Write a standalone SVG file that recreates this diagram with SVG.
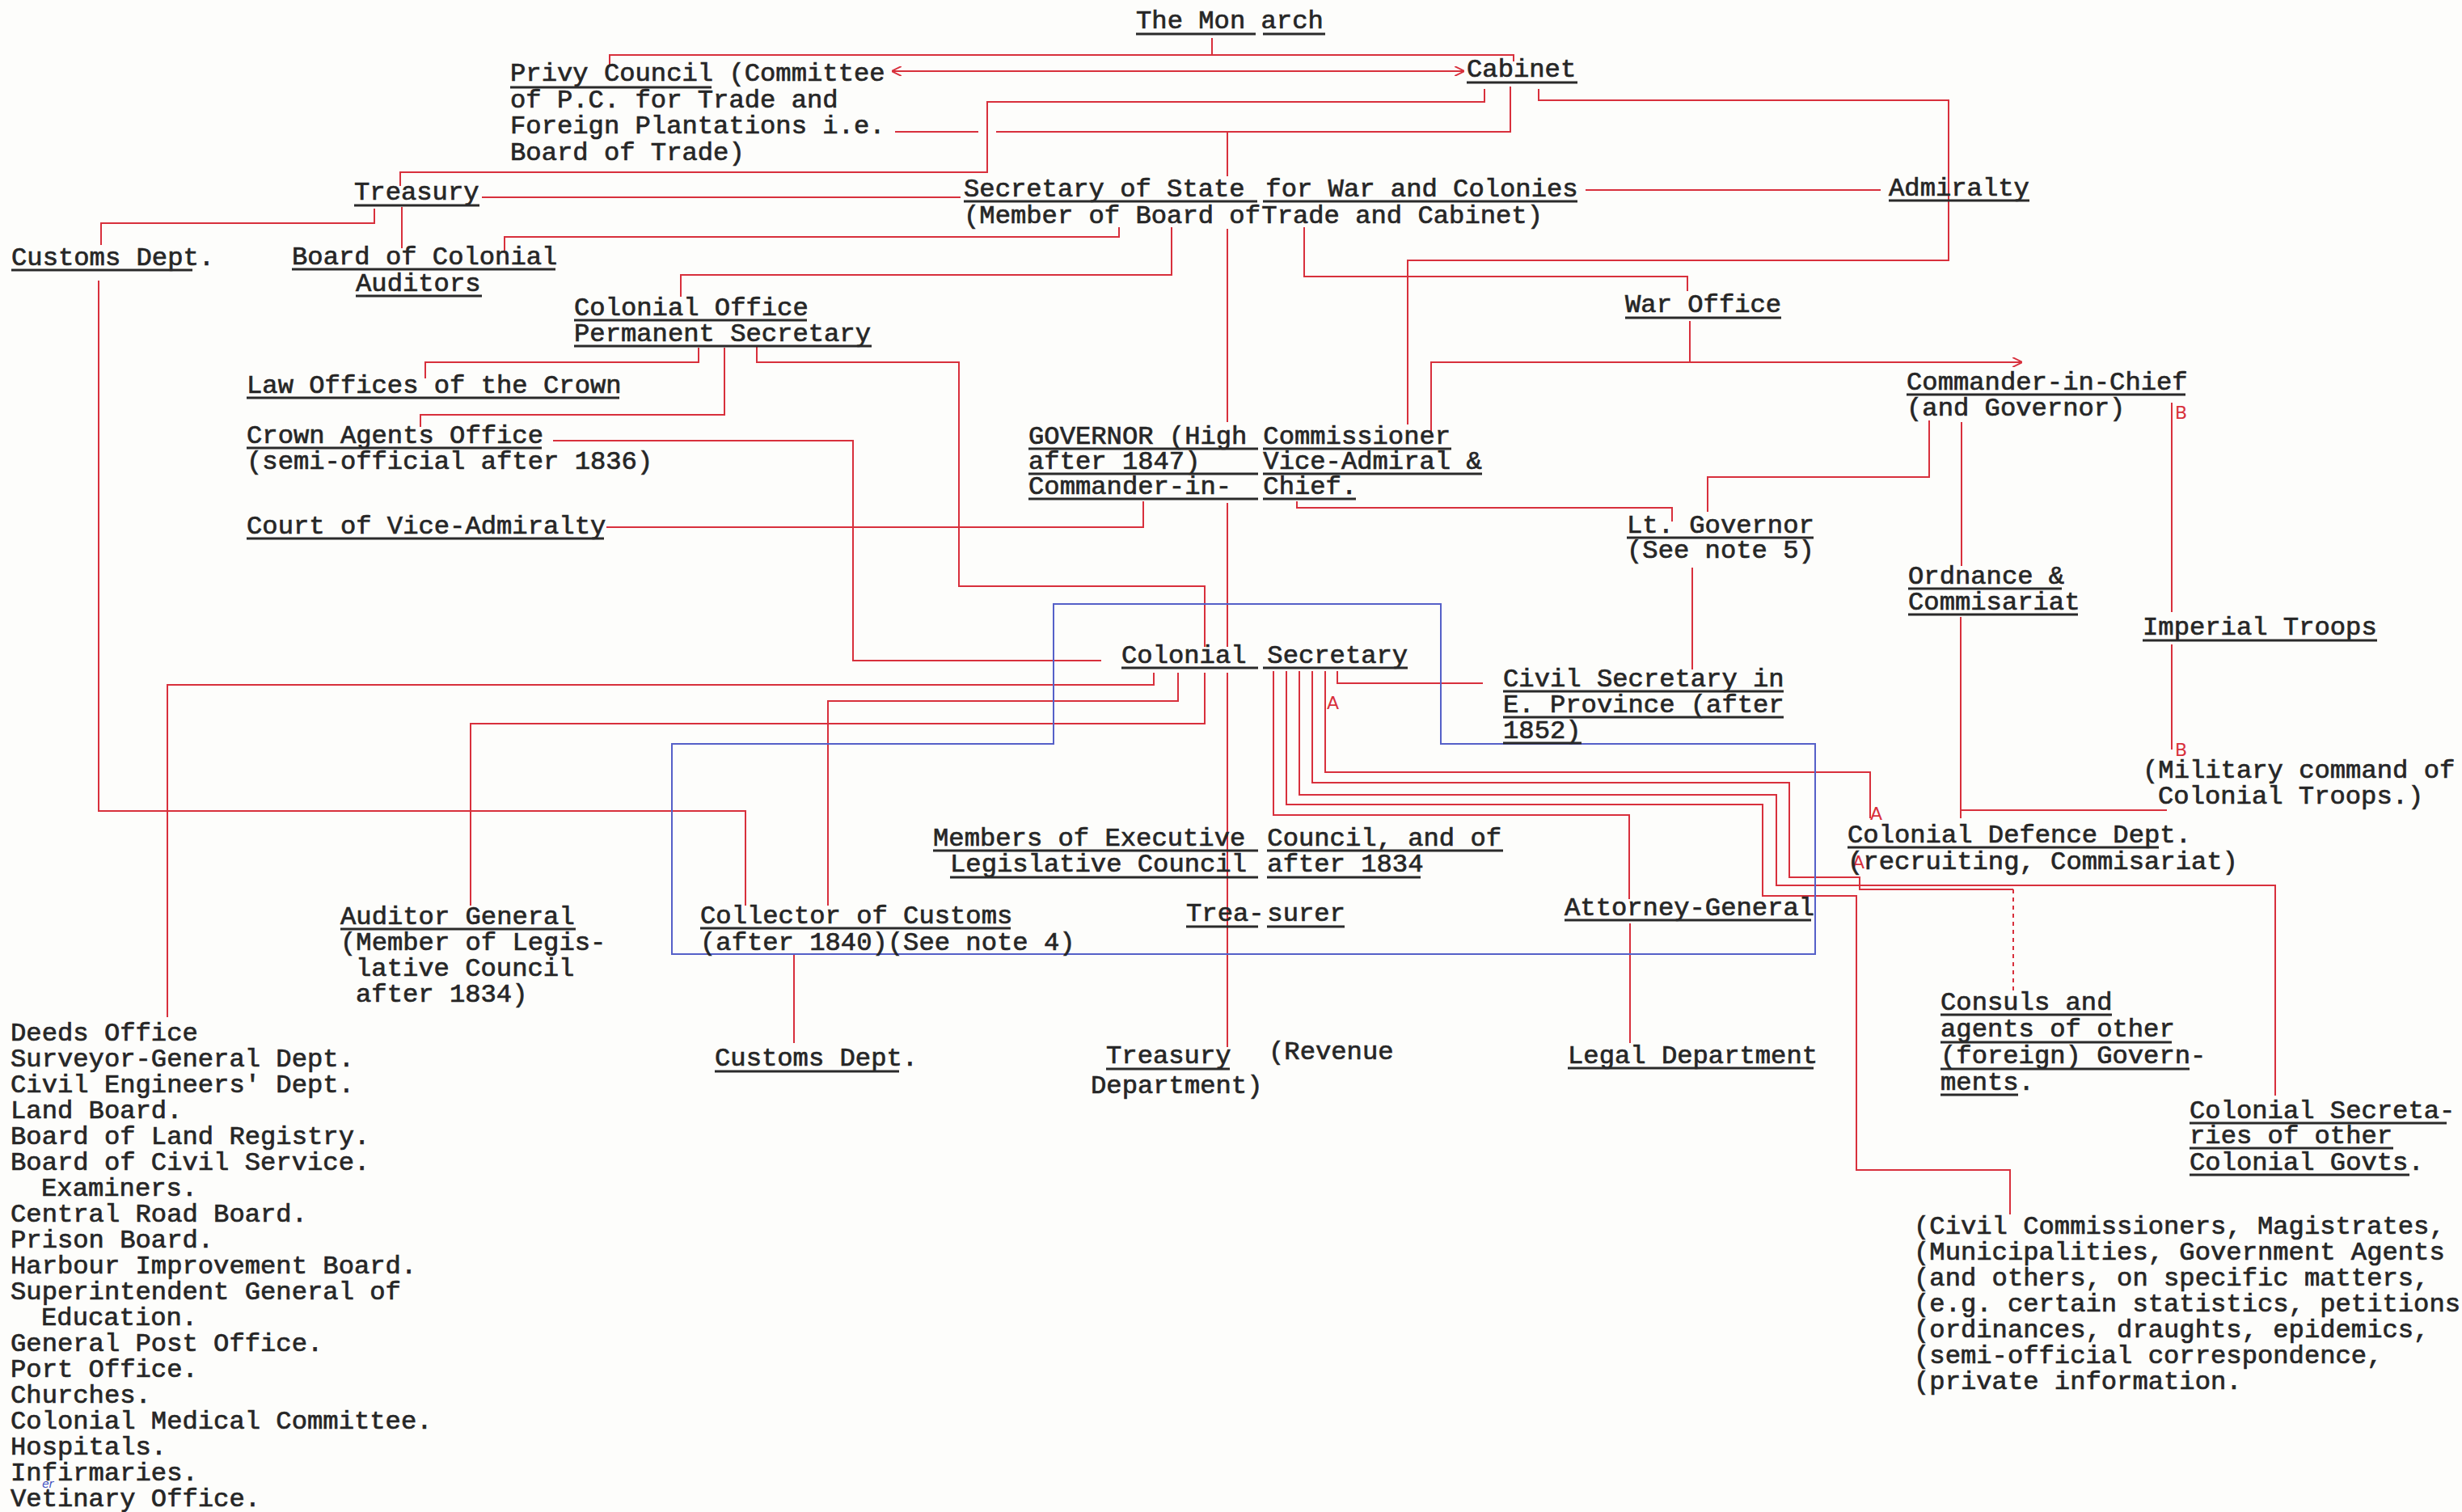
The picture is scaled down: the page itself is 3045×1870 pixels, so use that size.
<svg xmlns="http://www.w3.org/2000/svg" width="3045" height="1870" viewBox="0 0 3045 1870">
<style>
.t{font-family:"Liberation Mono","Courier New",monospace;font-size:32.2px;fill:#262626;stroke:#262626;stroke-width:0.7}
.ul{stroke:#2a2a2a;stroke-width:2.8;fill:none}
.r{fill:none;stroke:#d8303c;stroke-width:2}
.rd{fill:none;stroke:#d8303c;stroke-width:2;stroke-dasharray:5 5}
.b{fill:none;stroke:#5560c8;stroke-width:2}
.mk{font-family:"DejaVu Sans",sans-serif;font-size:22px;fill:#d8303c}
.mb{font-family:"DejaVu Sans",sans-serif;font-size:14px;font-style:italic;fill:#4050c0}
</style>
<defs>
<marker id="ar" viewBox="0 0 10 10" refX="9" refY="5" markerWidth="12" markerHeight="12" markerUnits="userSpaceOnUse" orient="auto-start-reverse">
<path d="M0,0 L10,5 L0,10" fill="none" stroke="#d8303c" stroke-width="1.6"/>
</marker>
</defs>
<rect width="3045" height="1870" fill="#fdfdfb"/>

<g id="connectors">
<path class="r" d="M754,80 V68 H1872 V76"/>
<path class="r" d="M1499,47 V68"/>
<path class="r" d="M1104,88 H1810" marker-start="url(#ar)" marker-end="url(#ar)"/>
<path class="r" d="M495,230 V213 H1221 V126 H1836 V110"/>
<path class="r" d="M1107,163 H1210 M1232,163 H1868 V107"/>
<path class="r" d="M1518,163 V218"/>
<path class="r" d="M1903,110 V124 H2410 V322 H1741 V525"/>
<path class="r" d="M1961,235 H2326"/>
<path class="r" d="M596,244 H1188"/>
<path class="r" d="M463,258 V276 H125 V303"/>
<path class="r" d="M497,256 V307"/>
<path class="r" d="M624,310 V293 H1384 V281"/>
<path class="r" d="M842,367 V340 H1449 V281"/>
<path class="r" d="M1613,281 V342 H2087 V360"/>
<path class="r" d="M1518,283 V522 M1518,622 V800 M1518,832 V1295"/>
<path class="r" d="M864,430 V448 H526 V468"/>
<path class="r" d="M896,430 V513 H520 V528"/>
<path class="r" d="M936,429 V448 H1186 V725 H1490 V800"/>
<path class="r" d="M1490,832 V895 H582 V1120"/>
<path class="r" d="M684,545 H1055 V817 H1362"/>
<path class="r" d="M750,652 H1414 V620"/>
<path class="r" d="M2090,397 V448"/>
<path class="r" d="M1770,535 V448 H2500" marker-end="url(#ar)"/>
<path class="r" d="M2386,520 V590 H2112 V633"/>
<path class="r" d="M1604,620 V628 H2068 V645"/>
<path class="r" d="M2426,522 V700"/>
<path class="r" d="M2425,763 V1012 M2425,1002 H2680"/>
<path class="r" d="M2686,498 V757"/>
<path class="r" d="M2686,797 V927"/>
<path class="r" d="M2093,702 V828"/>
<path class="r" d="M1654,830 V845 H1834"/>
<path class="r" d="M1639,830 V955 H2313 V1012"/>
<path class="r" d="M1623,830 V968 H2213 V1085 H2300 V1100 H2490"/>
<path class="rd" d="M2490,1100 V1225"/>
<path class="r" d="M1607,830 V983 H2197 V1095 H2814 V1355"/>
<path class="r" d="M1591,830 V995 H2180 V1108 H2296 V1447 H2486 V1502"/>
<path class="r" d="M1575,830 V1008 H2015 V1112"/>
<path class="r" d="M1427,832 V847 H207 V1258"/>
<path class="r" d="M1457,832 V867 H1024 V1120"/>
<path class="r" d="M122,347 V1003 H922 V1120"/>
<path class="r" d="M982,1180 V1290"/>
<path class="r" d="M2016,1142 V1290"/>
<path class="b" d="M831,920 H1303 V747 H1782 V920 H2245 V1180 H831 Z"/>
</g>

<g id="marks">
<text class="mk" x="2690" y="518">B</text>
<text class="mk" x="2690" y="935">B</text>
<text class="mk" x="1641" y="877">A</text>
<text class="mk" x="2313" y="1014">A</text>
<text class="mk" x="2291" y="1074">A</text>
<text class="mb" x="52" y="1840">er</text>
</g>

<g id="n-monarch">
<text class="t" x="1405" y="35">The Mon arch</text>
<path class="ul" d="M1405,42 H1553 M1562,42 H1639"/>
</g>
<g id="n-privy">
<text class="t"><tspan x="631" y="100">Privy Council (Committee</tspan><tspan x="631" y="132.5">of P.C. for Trade and</tspan><tspan x="631" y="165">Foreign Plantations i.e.</tspan><tspan x="631" y="197.5">Board of Trade)</tspan></text>
<path class="ul" d="M631,108 H880"/>
</g>
<g id="n-cabinet">
<text class="t" x="1814" y="95">Cabinet</text>
<path class="ul" d="M1814,102 H1951"/>
</g>
<g id="n-treasury">
<text class="t" x="438" y="247">Treasury</text>
<path class="ul" d="M438,254 H593"/>
</g>
<g id="n-secstate">
<text class="t"><tspan x="1192" y="243">Secretary of State</tspan><tspan x="1546" y="243"> for War and Colonies</tspan><tspan x="1192" y="276">(Member of Board of</tspan><tspan x="1541" y="276"> Trade and Cabinet)</tspan></text>
<path class="ul" d="M1192,249 H1555 M1562,249 H1951"/>
</g>
<g id="n-admiralty">
<text class="t" x="2336" y="242">Admiralty</text>
<path class="ul" d="M2336,248 H2510"/>
</g>
<g id="n-customs-top">
<text class="t" x="14" y="328">Customs Dept.</text>
<path class="ul" d="M14,334 H238"/>
</g>
<g id="n-auditors">
<text class="t"><tspan x="361" y="327">Board of Colonial</tspan><tspan x="440" y="360">Auditors</tspan></text>
<path class="ul" d="M361,333 H687 M440,366 H596"/>
</g>
<g id="n-colonial-office">
<text class="t"><tspan x="710" y="390">Colonial Office</tspan><tspan x="710" y="422">Permanent Secretary</tspan></text>
<path class="ul" d="M710,396 H998 M710,428 H1078"/>
</g>
<g id="n-war-office">
<text class="t" x="2010" y="386">War Office</text>
<path class="ul" d="M2010,393 H2203"/>
</g>
<g id="n-law">
<text class="t" x="305" y="486">Law Offices of the Crown</text>
<path class="ul" d="M305,492 H766"/>
</g>
<g id="n-crown-agents">
<text class="t"><tspan x="305" y="548">Crown Agents Office</tspan><tspan x="305" y="580">(semi-official after 1836)</tspan></text>
<path class="ul" d="M305,554 H670"/>
</g>
<g id="n-court">
<text class="t" x="305" y="660">Court of Vice-Admiralty</text>
<path class="ul" d="M305,666 H747"/>
</g>
<g id="n-cinc">
<text class="t"><tspan x="2358" y="482">Commander-in-Chief</tspan><tspan x="2358" y="514">(and Governor)</tspan></text>
<path class="ul" d="M2358,488 H2703"/>
</g>
<g id="n-governor">
<text class="t"><tspan x="1272" y="549">GOVERNOR (High</tspan><tspan x="1543" y="549"> Commissioner</tspan><tspan x="1272" y="580">after 1847)</tspan><tspan x="1543" y="580"> Vice-Admiral &amp;</tspan><tspan x="1272" y="611">Commander-in-</tspan><tspan x="1543" y="611"> Chief.</tspan></text>
<path class="ul" d="M1272,555 H1556 M1272,586 H1556 M1272,617 H1556 M1562,555 H1795 M1562,586 H1833 M1562,617 H1677"/>
</g>
<g id="n-ltgov">
<text class="t"><tspan x="2012" y="659">Lt. Governor</tspan><tspan x="2012" y="690">(See note 5)</tspan></text>
<path class="ul" d="M2012,665 H2243"/>
</g>
<g id="n-ordnance">
<text class="t"><tspan x="2360" y="722">Ordnance &amp;</tspan><tspan x="2360" y="754">Commisariat</tspan></text>
<path class="ul" d="M2360,728 H2550 M2360,760 H2570"/>
</g>
<g id="n-imperial">
<text class="t" x="2650" y="785">Imperial Troops</text>
<path class="ul" d="M2650,792 H2940"/>
</g>
<g id="n-colsec">
<text class="t"><tspan x="1387" y="820">Colonial</tspan><tspan x="1548" y="820"> Secretary</tspan></text>
<path class="ul" d="M1387,826 H1556 M1562,826 H1741"/>
</g>
<g id="n-civilsec">
<text class="t"><tspan x="1859" y="849">Civil Secretary in</tspan><tspan x="1859" y="881">E. Province (after</tspan><tspan x="1859" y="913">1852)</tspan></text>
<path class="ul" d="M1859,855 H2206 M1859,887 H2206 M1859,919 H1956"/>
</g>
<g id="n-military">
<text class="t"><tspan x="2650" y="962">(Military command of</tspan><tspan x="2669" y="994">Colonial Troops.)</tspan></text>
</g>
<g id="n-defence">
<text class="t"><tspan x="2285" y="1042">Colonial Defence Dept.</tspan><tspan x="2285" y="1075">(recruiting, Commisariat)</tspan></text>
<path class="ul" d="M2285,1048 H2670"/>
</g>
<g id="n-members">
<text class="t"><tspan x="1154" y="1046">Members of Executive</tspan><tspan x="1548" y="1046"> Council, and of</tspan><tspan x="1175" y="1078">Legislative Council</tspan><tspan x="1548" y="1078"> after 1834</tspan></text>
<path class="ul" d="M1154,1052 H1556 M1567,1052 H1859 M1175,1085 H1556 M1567,1085 H1757"/>
</g>
<g id="n-auditor-general">
<text class="t"><tspan x="421" y="1143">Auditor General</tspan><tspan x="421" y="1175">(Member of Legis-</tspan><tspan x="440" y="1207">lative Council</tspan><tspan x="440" y="1239">after 1834)</tspan></text>
<path class="ul" d="M421,1149 H712"/>
</g>
<g id="n-collector">
<text class="t"><tspan x="866" y="1142">Collector of Customs</tspan><tspan x="866" y="1175">(after 1840)(See note 4)</tspan></text>
<path class="ul" d="M866,1148 H1250"/>
</g>
<g id="n-treasurer">
<text class="t"><tspan x="1467" y="1139">Trea-</tspan><tspan x="1548" y="1139"> surer</tspan></text>
<path class="ul" d="M1467,1146 H1556 M1567,1146 H1663"/>
</g>
<g id="n-attorney">
<text class="t" x="1935" y="1132">Attorney-General</text>
<path class="ul" d="M1935,1138 H2240"/>
</g>
<g id="n-customs-bottom">
<text class="t" x="884" y="1318">Customs Dept.</text>
<path class="ul" d="M884,1325 H1112"/>
</g>
<g id="n-treasury-dept">
<text class="t"><tspan x="1368" y="1315">Treasury</tspan><tspan x="1569" y="1310">(Revenue</tspan><tspan x="1349" y="1352">Department)</tspan></text>
<path class="ul" d="M1368,1322 H1521"/>
</g>
<g id="n-legal">
<text class="t" x="1939" y="1315">Legal Department</text>
<path class="ul" d="M1939,1321 H2243"/>
</g>
<g id="n-consuls">
<text class="t"><tspan x="2400" y="1249">Consuls and</tspan><tspan x="2400" y="1282">agents of other</tspan><tspan x="2400" y="1315">(foreign) Govern-</tspan><tspan x="2400" y="1348">ments.</tspan></text>
<path class="ul" d="M2400,1255 H2612 M2400,1289 H2686 M2400,1322 H2708 M2400,1354 H2496"/>
</g>
<g id="n-colsecs-other">
<text class="t"><tspan x="2708" y="1383">Colonial Secreta-</tspan><tspan x="2708" y="1414">ries of other</tspan><tspan x="2708" y="1447">Colonial Govts.</tspan></text>
<path class="ul" d="M2708,1389 H3026 M2708,1420 H2960 M2708,1453 H2980"/>
</g>
<g id="n-civil-commissioners">
<text class="t"><tspan x="2367" y="1526">(Civil Commissioners, Magistrates,</tspan><tspan x="2367" y="1558">(Municipalities, Government Agents</tspan><tspan x="2367" y="1590">(and others, on specific matters,</tspan><tspan x="2367" y="1622">(e.g. certain statistics, petitions</tspan><tspan x="2367" y="1654">(ordinances, draughts, epidemics,</tspan><tspan x="2367" y="1686">(semi-official correspondence,</tspan><tspan x="2367" y="1718">(private information.</tspan></text>
</g>
<g id="n-departments-list">
<text class="t"><tspan x="13" y="1287">Deeds Office</tspan><tspan x="13" y="1319">Surveyor-General Dept.</tspan><tspan x="13" y="1351">Civil Engineers' Dept.</tspan><tspan x="13" y="1383">Land Board.</tspan><tspan x="13" y="1415">Board of Land Registry.</tspan><tspan x="13" y="1447">Board of Civil Service.</tspan><tspan x="51" y="1479">Examiners.</tspan><tspan x="13" y="1511">Central Road Board.</tspan><tspan x="13" y="1543">Prison Board.</tspan><tspan x="13" y="1575">Harbour Improvement Board.</tspan><tspan x="13" y="1607">Superintendent General of</tspan><tspan x="51" y="1639">Education.</tspan><tspan x="13" y="1671">General Post Office.</tspan><tspan x="13" y="1703">Port Office.</tspan><tspan x="13" y="1735">Churches.</tspan><tspan x="13" y="1767">Colonial Medical Committee.</tspan><tspan x="13" y="1799">Hospitals.</tspan><tspan x="13" y="1831">Infirmaries.</tspan><tspan x="13" y="1863">Vetinary Office.</tspan></text>
</g>
</svg>
